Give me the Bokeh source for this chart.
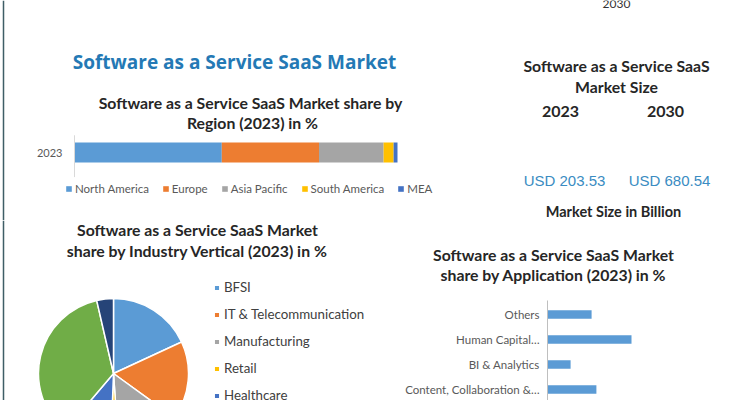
import math
from bokeh.plotting import figure
from bokeh.models import Range1d, Label, Legend, LegendItem, ColumnDataSource, Span
from bokeh.layouts import column, row
from bokeh.embed import file_html
from bokeh.resources import INLINE
from bokeh.core.properties import value

# ---------------- data ----------------
main_title = "Software as a Service SaaS Market"

region_year = ["2023"]
regions = ["North America", "Europe", "Asia Pacific", "South America", "MEA"]
region_share = [45.6, 30.1, 20.0, 3.1, 1.2]
region_colors = ["#5B9BD5", "#ED7D31", "#A5A5A5", "#FFC000", "#4472C4"]

size_years = ["2023", "2030"]
size_values = [203.53, 680.54]

verticals = ["BFSI", "IT & Telecommunication", "Manufacturing", "Retail",
             "Healthcare", "Government", "Others"]
vertical_share = [18.1, 16.9, 13.9, 1.7, 10.6, 35.2, 3.6]
vertical_colors = ["#5B9BD5", "#ED7D31", "#A5A5A5", "#FFC000", "#4472C4",
                   "#70AD47", "#264478"]

applications = ["Content, Collaboration &\u2026", "BI & Analytics",
                "Human Capital\u2026", "Others"]
application_share = [16.3, 7.7, 28.0, 14.7]

TXT = "#262626"
LBL = "#595959"
FONT = "Lato"
EDGE = "#3F5E66"
TSIZE = "15.8px"


def base(w, h, xr, yr):
    p = figure(width=w, height=h, output_backend="svg", toolbar_location=None,
               x_range=xr, y_range=yr,
               background_fill_color="white", border_fill_color="white",
               outline_line_color=None, min_border_left=0, min_border_right=0,
               min_border_top=0, min_border_bottom=0)
    p.grid.visible = False
    p.axis.visible = False
    return p


def lab(p, sx, sy_top, text, size, bold=True, color=TXT, font=FONT, align="center"):
    p.add_layout(Label(x=sx, y=p.height - sy_top, x_units="screen", y_units="screen",
                       text=text, text_align=align, text_baseline="middle",
                       text_font=font, text_font_size=size, text_color=color,
                       text_font_style="bold" if bold else "normal"))


def lin_range(v0, px0, px_per_unit, total_px):
    # range whose value v0 sits at pixel px0 (measured from left / bottom)
    start = v0 - px0 / px_per_unit
    return Range1d(start, start + total_px / px_per_unit)


# ---------------- top-left: region stacked bar ----------------
W1, H1 = 470, 220
bar_y = 220 - 152          # bar centre, px from bottom
tl = base(W1, H1, lin_range(0, 74, 3.23, W1), lin_range(0, bar_y, 41, H1))
ridx = list(range(len(region_year)))
src = ColumnDataSource(dict(y=ridx, **{r: [v] for r, v in zip(regions, region_share)}))
rs = tl.hbar_stack(regions, y="y", height=0.49, color=region_colors,
                   line_color=None, source=src)
tl.segment(x0=0, x1=0, y0=-0.6, y1=0.42, line_color="#D9D9D9", line_width=1)
tl.text(x=0, y=ridx, text=region_year, x_offset=-12, text_align="right",
        text_baseline="middle", text_font=value(FONT), text_font_size="11px",
        text_color=LBL)
leg1 = Legend(items=[LegendItem(label=r, renderers=[rr]) for r, rr in zip(regions, rs)],
              orientation="horizontal", location=(65, 25), padding=0, margin=0,
              spacing=13, glyph_width=7, glyph_height=7, label_standoff=3,
              label_height=14, label_text_font=FONT, label_text_font_size="11.5px",
              label_text_color=LBL, label_text_baseline="middle",
              border_line_color=None, background_fill_alpha=0)
tl.add_layout(leg1)
tl.add_layout(Span(location=3, location_units="screen", dimension="height",
                   line_color=EDGE, line_width=1.5))
lab(tl, 234, 61, main_title, "19px", color="#2479B5", font="Open Sans")
lab(tl, 250, 102, "Software as a Service SaaS Market share by", TSIZE)
lab(tl, 252, 122, "Region (2023) in %", TSIZE)

# ---------------- top-right: market size ----------------
W2, H2 = 265, 220
OX = 470                   # panel's left edge on the page
tr = base(W2, H2, lin_range(0, 560 - OX, 105, W2), Range1d(H2, 0))
sidx = list(range(len(size_years)))
ssrc = ColumnDataSource(dict(x=sidx, year=size_years,
                             usd=["USD %.2f" % v for v in size_values]))
tr.text(x="x", y=111, text="year", source=ssrc, text_align="center",
        text_baseline="middle", text_font=value(FONT), text_font_style="bold",
        text_font_size="16px", text_color=TXT)
tr.text(x="x", y=180, text="usd", source=ssrc, x_offset=4, text_align="center",
        text_baseline="middle", text_font=value("Liberation Sans"),
        text_font_size="15px", text_color="#3A8CC2")
lab(tr, 616 - OX, 3, "2030", "12px", bold=False, color="#333333")
lab(tr, 616 - OX, 65, "Software as a Service SaaS", "15.8px")
lab(tr, 616 - OX, 86, "Market Size", "15.8px")
lab(tr, 613 - OX, 211, "Market Size in Billion", "14.5px")

# ---------------- bottom-left: industry vertical pie ----------------
W3, H3 = 400, 180
bl = base(W3, H3, Range1d(-113, W3 - 113), Range1d(-27, H3 - 27))
tot = sum(vertical_share)
cum = [0.0]
for v in vertical_share:
    cum.append(cum[-1] + v / tot)
psrc = ColumnDataSource(dict(
    name=verticals, color=vertical_colors,
    start=[math.pi / 2 - 2 * math.pi * c for c in cum[:-1]],
    end=[math.pi / 2 - 2 * math.pi * c for c in cum[1:]]))
wr = bl.wedge(x=0, y=0, radius=75, start_angle="start", end_angle="end",
              direction="clock", fill_color="color", line_color="white",
              line_width=1.5, source=psrc)
leg2 = Legend(items=[LegendItem(label=verticals[i], renderers=[wr], index=i) for i in range(5)],
              location=(213, -5), padding=0, margin=0, spacing=7,
              glyph_width=7, glyph_height=7, label_standoff=4, label_height=20,
              label_text_font=FONT, label_text_font_size="13.3px",
              label_text_color="#404040", label_text_baseline="middle",
              border_line_color=None, background_fill_alpha=0)
bl.add_layout(leg2)
bl.add_layout(Span(location=3, location_units="screen", dimension="height",
                   line_color=EDGE, line_width=1.5))
lab(bl, 197, 9, "Software as a Service SaaS Market", TSIZE)
lab(bl, 197, 30, "share by Industry Vertical (2023) in %", TSIZE)

# ---------------- bottom-right: application bars ----------------
W4, H4 = 335, 180
aidx = list(range(len(applications)))
top_idx = aidx[-1]
br = base(W4, H4, lin_range(0, 147, 3.0, W4),
          lin_range(top_idx, H4 - 94, 25, H4))
br.hbar(y=aidx, right=application_share, left=0, height=0.34, color="#5B9BD5",
        line_color=None)
br.segment(x0=0, x1=0, y0=-0.6, y1=top_idx + 0.56, line_color="#BFBFBF", line_width=1)
br.text(x=0, y=aidx, text=applications, x_offset=-8, text_align="right",
        text_baseline="middle", text_font=value(FONT), text_font_size="11.5px",
        text_color=LBL)
lab(br, 153, 34, "Software as a Service SaaS Market", TSIZE)
lab(br, 153, 54, "share by Application (2023) in %", TSIZE)

layout = column(row(tl, tr, spacing=0), row(bl, br, spacing=0), spacing=0)
open("out.html", "w").write(file_html(layout, INLINE))
